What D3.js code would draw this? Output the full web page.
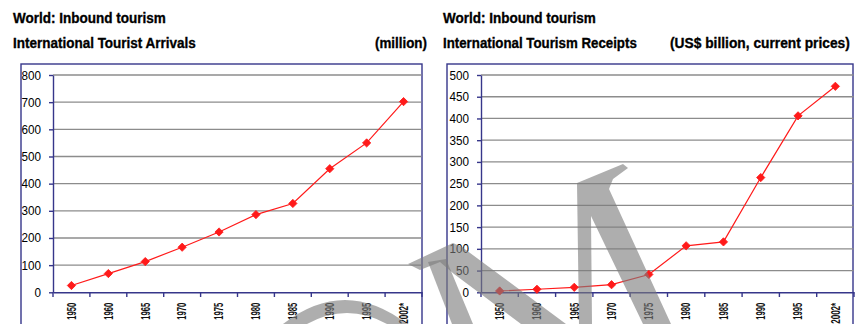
<!DOCTYPE html>
<html>
<head>
<meta charset="utf-8">
<script src="https://cdn.jsdelivr.net/npm/d3@7/dist/d3.min.js"></script>
<style>
  html, body { margin: 0; padding: 0; background: #fff; }
  svg { display: block; }
</style>
</head>
<body>
<svg id="chart" width="856" height="324"></svg>
<script>
// ---------- data ----------
const categories = ["1950","1960","1965","1970","1975","1980","1985","1990","1995","2002*"];
const arrivals = [25, 69, 113, 166, 222, 286, 327, 455, 550, 702];       // million
const receipts = [3, 7, 11.5, 17.5, 41, 107, 116, 264, 406, 474];        // US$ billion
const arrivalTicks = [0, 100, 200, 300, 400, 500, 600, 700, 800];
const receiptTicks = [0, 50, 100, 150, 200, 250, 300, 350, 400, 450, 500];
const supTitle = "World: Inbound tourism";
const leftTitle = "International Tourist Arrivals";
const leftUnit = "(million)";
const rightTitle = "International Tourism Receipts";
const rightUnit = "(US$ billion, current prices)";

// ---------- drawing ----------
const svg = d3.select("#chart");
const NAVY = "#36368a";
const GRID = "#8c8c8c";
const RED = "#ff1a1a";
const titleFont = "'Liberation Sans Narrow','Arial Narrow','Liberation Sans',Arial,sans-serif";
const bodyFont = "'Liberation Sans',Arial,sans-serif";

// title text: natural font, squeezed horizontally with a transform to a target width
function titleText(x, y, txt, len) {
  const t = svg.append("text")
    .attr("x", 0).attr("y", 0)
    .attr("font-family", titleFont)
    .attr("font-weight", "bold")
    .attr("font-size", 15.5)
    .attr("fill", "#000")
    .attr("stroke", "#000")
    .attr("stroke-width", 0.35)
    .text(txt);
  const w = t.node().getComputedTextLength() || len;
  t.attr("transform", `translate(${x},${y}) scale(${len / w},1)`);
}

function panel(cfg) {
  const g = svg.append("g");
  // frame
  g.append("rect")
    .attr("x", cfg.frame[0]).attr("y", 64)
    .attr("width", cfg.frame[1] - cfg.frame[0]).attr("height", 300)
    .attr("fill", "#fff").attr("stroke", NAVY).attr("stroke-width", 1.4);

  const x = d3.scaleBand().domain(categories).range([cfg.x0, cfg.x1]);
  const y = d3.scaleLinear().domain([0, cfg.max]).range([292.3, 75]);

  // gridlines
  g.append("g").selectAll("line")
    .data(cfg.ticks.filter(t => t > 0))
    .join("line")
    .attr("x1", cfg.x0).attr("x2", cfg.x1 - 0.5)
    .attr("y1", d => y(d)).attr("y2", d => y(d))
    .attr("stroke", GRID).attr("stroke-width", 1.3);

  // y axis
  const yAxis = g.append("g")
    .attr("transform", `translate(${cfg.x0},0)`)
    .call(d3.axisLeft(y).tickValues(cfg.ticks).tickSize(4).tickPadding(8).tickSizeOuter(0));
  yAxis.select(".domain").attr("stroke", NAVY).attr("stroke-width", 1.4);
  yAxis.selectAll(".tick line").attr("stroke", NAVY).attr("stroke-width", 1.4);
  yAxis.selectAll("text")
    .attr("font-family", bodyFont).attr("font-size", 12.5).attr("fill", "#000")
    .attr("textLength", d => String(d).length * 6.5)
    .attr("lengthAdjust", "spacingAndGlyphs");

  // x axis
  const xAxis = g.append("g")
    .attr("transform", `translate(0,292.3)`)
    .call(d3.axisBottom(x).tickSize(0).tickSizeOuter(0));
  xAxis.select(".domain").attr("stroke", NAVY).attr("stroke-width", 1.4);
  xAxis.selectAll(".tick line").remove();
  // boundary ticks
  g.append("g").selectAll("line")
    .data(categories.map(c => x(c)).concat([cfg.x1]))
    .join("line")
    .attr("x1", d => d).attr("x2", d => d)
    .attr("y1", 292.3).attr("y2", 297)
    .attr("stroke", NAVY).attr("stroke-width", 1.4);
  xAxis.selectAll("text")
    .attr("font-family", titleFont)
    .attr("font-size", 12)
    .attr("font-weight", "bold")
    .attr("fill", "#111")
    .attr("text-anchor", "end")
    .attr("transform", "rotate(-90)")
    .attr("x", -10.5)
    .attr("y", 0)
    .attr("dy", "0.36em")
    .attr("textLength", d => d.length > 4 ? 21 : 17)
    .attr("lengthAdjust", "spacingAndGlyphs");

  // line
  const cx = d => x(d) + x.bandwidth() / 2;
  const line = d3.line()
    .x((d, i) => cx(categories[i]))
    .y(d => y(d));
  g.append("path")
    .datum(cfg.values)
    .attr("d", line)
    .attr("fill", "none").attr("stroke", RED).attr("stroke-width", 1.2);

  // diamond markers (square rotated 45°)
  const sym = d3.symbol().type(d3.symbolSquare).size(34);
  g.append("g").selectAll("path")
    .data(cfg.values)
    .join("path")
    .attr("d", sym)
    .attr("transform", (d, i) => `translate(${cx(categories[i])},${y(d)}) rotate(45)`)
    .attr("fill", RED).attr("stroke", RED).attr("stroke-width", 0.8);
}

panel({ frame: [21, 422], x0: 53, x1: 422, max: 800, ticks: arrivalTicks, values: arrivals });
panel({ frame: [447, 853], x0: 481, x1: 854, max: 500, ticks: receiptTicks, values: receipts });

// titles
titleText(13, 23, supTitle, 153);
titleText(13, 48, leftTitle, 183);
titleText(375, 48, leftUnit, 52);
titleText(443, 23, supTitle, 153);
titleText(443, 48, rightTitle, 194);
titleText(670, 48, rightUnit, 180);

// ---------- watermark (decorative) ----------
const wm = svg.append("g").attr("fill", "#7c7c7c").attr("fill-opacity", 0.62);
const wmPaths = [
  "M283,324 Q345,276 407,324 L387,324 Q347,302 307,324 Z",
  "M408,264 L453,243 L462,247 L566,324 L521,324 L454,274 L440,262 L420,270 Z",
  "M428,262 L446,259 L473,324 L452,324 Z",
  "M577,183 L623,164 L628,168 L613,179 L609,189 L671,324 L643,324 L591,216 L592,324 L579,324 Z"
];
wm.selectAll("path").data(wmPaths).join("path").attr("d", d => d);
</script>
</body>
</html>
